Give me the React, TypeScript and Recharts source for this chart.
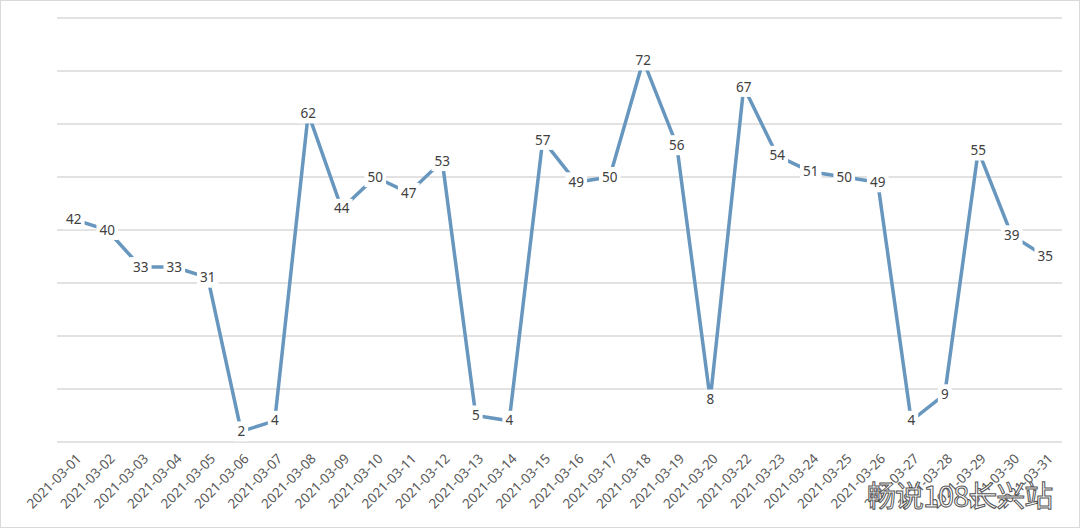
import React from "react";
import { LineChart, Line, XAxis, YAxis, CartesianGrid, LabelList } from "recharts";

const dates = [
  "2021-03-01", "2021-03-02", "2021-03-03", "2021-03-04", "2021-03-05",
  "2021-03-06", "2021-03-07", "2021-03-08", "2021-03-09", "2021-03-10",
  "2021-03-11", "2021-03-12", "2021-03-13", "2021-03-14", "2021-03-15",
  "2021-03-16", "2021-03-17", "2021-03-18", "2021-03-19", "2021-03-20",
  "2021-03-22", "2021-03-23", "2021-03-24", "2021-03-25", "2021-03-26",
  "2021-03-27", "2021-03-28", "2021-03-29", "2021-03-30", "2021-03-31",
];

const counts = [
  42, 40, 33, 33, 31, 2, 4, 62, 44, 50,
  47, 53, 5, 4, 57, 49, 50, 72, 56, 8,
  67, 54, 51, 50, 49, 4, 9, 55, 39, 35,
];

const yTicks = [0, 10, 20, 30, 40, 50, 60, 70, 80];

const data = dates.map((d, i) => ({ date: d, value: counts[i] }));

const FONT = "'Noto Sans', 'Liberation Sans', sans-serif";

function DateTick(props: any) {
  const { x, y, payload } = props;
  return (
    <text
      x={x + 6}
      y={y + 7}
      transform={`rotate(-45, ${x + 6}, ${y + 7})`}
      textAnchor="end"
      dominantBaseline="middle"
      fill="#595959"
      fontSize={13.5}
      fontFamily={FONT}
    >
      {payload.value}
    </text>
  );
}

function ValueLabel(props: any) {
  const { x, y, value } = props;
  const w = String(value).length * 7.8 + 6;
  return (
    <g>
      <rect x={x - w / 2} y={y - 10} width={w} height={20} fill="#ffffff" />
      <text
        x={x}
        y={y + 1}
        textAnchor="middle"
        dominantBaseline="middle"
        fill="#404040"
        fontSize={13.5}
        fontFamily={FONT}
      >
        {value}
      </text>
    </g>
  );
}

export default function App() {
  return (
    <div
      style={{
        position: "fixed",
        left: 0,
        top: 0,
        width: 1080,
        height: 528,
        background: "#ffffff",
        boxSizing: "border-box",
        border: "1px solid #d9d9d9",
      }}
    >
      <LineChart
        width={1078}
        height={526}
        data={data}
        margin={{ top: 17, right: 17, bottom: 0, left: 56 }}
      >
        <CartesianGrid vertical={false} stroke="#d9d9d9" strokeWidth={1.3} />
        <XAxis
          dataKey="date"
          interval={0}
          height={85}
          axisLine={false}
          tickLine={false}
          padding={{ left: 16.75, right: 16.75 }}
          tick={<DateTick />}
        />
        <YAxis hide domain={[0, 80]} ticks={yTicks} />
        <Line
          type="linear"
          dataKey="value"
          stroke="#6796be"
          strokeWidth={3.5}
          dot={false}
          isAnimationActive={false}
        >
          <LabelList dataKey="value" content={<ValueLabel />} />
        </Line>
      </LineChart>
      <div
        style={{
          position: "absolute",
          left: 866,
          top: 472,
          fontSize: 29,
          fontFamily: "'Noto Sans CJK SC', sans-serif",
          color: "#ffffff",
          WebkitTextStroke: "1px #555555",
          letterSpacing: -1,
        }}
      >
        畅说108长兴站
      </div>
    </div>
  );
}
